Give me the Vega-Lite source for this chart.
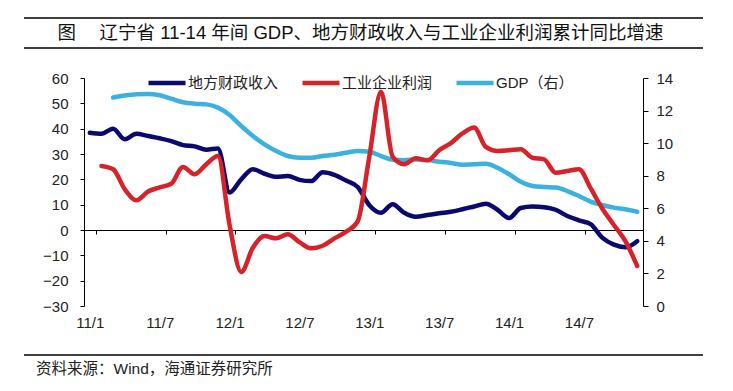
{
  "$schema": "https://vega.github.io/schema/vega-lite/v6.json",
  "background": "white",
  "padding": {"left": 23, "top": 17, "right": 31, "bottom": 10},
  "spacing": 30,
  "bounds": "flush",
  "center": true,
  "resolve": {"scale": {"color": "independent"}, "legend": {"color": "independent"}},
  "config": {
    "view": {"stroke": null},
    "font": "Liberation Sans",
    "axis": {"grid": false, "labelFont": "Liberation Sans", "labelFontSize": 15, "labelColor": "#222", "domainColor": "#000", "tickColor": "#000", "domainWidth": 1, "tickWidth": 1, "title": null}
  },
  "vconcat": [
    {
      "width": 679,
      "height": 30,
      "view": {"stroke": "#000", "strokeWidth": 1.5, "strokeDash": [679, 30, 679, 30]},
      "data": {"values": [{"t": "图　 辽宁省 11-14 年间 GDP、地方财政收入与工业企业利润累计同比增速"}]},
      "mark": {"type": "text", "fontSize": 18.5, "font": "Liberation Sans, Noto Sans CJK SC", "color": "#111", "align": "center", "baseline": "middle", "dx": -3},
      "encoding": {"text": {"field": "t"}}
    },
    {
      "width": 559,
      "height": 228,
      "view": {"stroke": null},
      "data": {"values": [
        {"month": "11/1", "series": "地方财政收入", "value": 38.4},
        {"month": "11/2", "series": "地方财政收入", "value": 38.0},
        {"month": "11/3", "series": "地方财政收入", "value": 40.0},
        {"month": "11/4", "series": "地方财政收入", "value": 35.8},
        {"month": "11/5", "series": "地方财政收入", "value": 38.0},
        {"month": "11/6", "series": "地方财政收入", "value": 37.1},
        {"month": "11/7", "series": "地方财政收入", "value": 36.2},
        {"month": "11/8", "series": "地方财政收入", "value": 35.1},
        {"month": "11/9", "series": "地方财政收入", "value": 33.5},
        {"month": "11/10", "series": "地方财政收入", "value": 33.0},
        {"month": "11/11", "series": "地方财政收入", "value": 31.7},
        {"month": "11/12", "series": "地方财政收入", "value": 32.2},
        {"month": "12/1", "series": "地方财政收入", "value": 14.8},
        {"month": "12/2", "series": "地方财政收入", "value": 20.0},
        {"month": "12/3", "series": "地方财政收入", "value": 24.0},
        {"month": "12/4", "series": "地方财政收入", "value": 22.2},
        {"month": "12/5", "series": "地方财政收入", "value": 21.0},
        {"month": "12/6", "series": "地方财政收入", "value": 21.3},
        {"month": "12/7", "series": "地方财政收入", "value": 19.8},
        {"month": "12/8", "series": "地方财政收入", "value": 19.3},
        {"month": "12/9", "series": "地方财政收入", "value": 22.8},
        {"month": "12/10", "series": "地方财政收入", "value": 21.8},
        {"month": "12/11", "series": "地方财政收入", "value": 19.5},
        {"month": "12/12", "series": "地方财政收入", "value": 17.0},
        {"month": "13/1", "series": "地方财政收入", "value": 9.8},
        {"month": "13/2", "series": "地方财政收入", "value": 6.8},
        {"month": "13/3", "series": "地方财政收入", "value": 10.2},
        {"month": "13/4", "series": "地方财政收入", "value": 6.8},
        {"month": "13/5", "series": "地方财政收入", "value": 5.2},
        {"month": "13/6", "series": "地方财政收入", "value": 5.9},
        {"month": "13/7", "series": "地方财政收入", "value": 6.6},
        {"month": "13/8", "series": "地方财政收入", "value": 7.2},
        {"month": "13/9", "series": "地方财政收入", "value": 8.2},
        {"month": "13/10", "series": "地方财政收入", "value": 9.3},
        {"month": "13/11", "series": "地方财政收入", "value": 10.4},
        {"month": "13/12", "series": "地方财政收入", "value": 8.0},
        {"month": "14/1", "series": "地方财政收入", "value": 4.7},
        {"month": "14/2", "series": "地方财政收入", "value": 8.7},
        {"month": "14/3", "series": "地方财政收入", "value": 9.3},
        {"month": "14/4", "series": "地方财政收入", "value": 9.0},
        {"month": "14/5", "series": "地方财政收入", "value": 8.0},
        {"month": "14/6", "series": "地方财政收入", "value": 5.5},
        {"month": "14/7", "series": "地方财政收入", "value": 3.8},
        {"month": "14/8", "series": "地方财政收入", "value": 2.3},
        {"month": "14/9", "series": "地方财政收入", "value": -3.0},
        {"month": "14/10", "series": "地方财政收入", "value": -5.8},
        {"month": "14/11", "series": "地方财政收入", "value": -6.8},
        {"month": "14/12", "series": "地方财政收入", "value": -4.4},
        {"month": "11/2", "series": "工业企业利润", "value": 25.3},
        {"month": "11/3", "series": "工业企业利润", "value": 24.0},
        {"month": "11/4", "series": "工业企业利润", "value": 16.1},
        {"month": "11/5", "series": "工业企业利润", "value": 11.7},
        {"month": "11/6", "series": "工业企业利润", "value": 15.2},
        {"month": "11/7", "series": "工业企业利润", "value": 16.8},
        {"month": "11/8", "series": "工业企业利润", "value": 18.3},
        {"month": "11/9", "series": "工业企业利润", "value": 24.9},
        {"month": "11/10", "series": "工业企业利润", "value": 22.0},
        {"month": "11/11", "series": "工业企业利润", "value": 25.9},
        {"month": "11/12", "series": "工业企业利润", "value": 29.2},
        {"month": "12/1", "series": "工业企业利润", "value": 2.0},
        {"month": "12/2", "series": "工业企业利润", "value": -16.6},
        {"month": "12/3", "series": "工业企业利润", "value": -7.0},
        {"month": "12/4", "series": "工业企业利润", "value": -2.4},
        {"month": "12/5", "series": "工业企业利润", "value": -3.3},
        {"month": "12/6", "series": "工业企业利润", "value": -1.7},
        {"month": "12/7", "series": "工业企业利润", "value": -4.8},
        {"month": "12/8", "series": "工业企业利润", "value": -7.2},
        {"month": "12/9", "series": "工业企业利润", "value": -6.2},
        {"month": "12/10", "series": "工业企业利润", "value": -3.3},
        {"month": "12/11", "series": "工业企业利润", "value": -0.7},
        {"month": "12/12", "series": "工业企业利润", "value": 3.4},
        {"month": "13/1", "series": "工业企业利润", "value": 29.0},
        {"month": "13/2", "series": "工业企业利润", "value": 54.6},
        {"month": "13/3", "series": "工业企业利润", "value": 29.0},
        {"month": "13/4", "series": "工业企业利润", "value": 26.0},
        {"month": "13/5", "series": "工业企业利润", "value": 28.3},
        {"month": "13/6", "series": "工业企业利润", "value": 27.5},
        {"month": "13/7", "series": "工业企业利润", "value": 31.5},
        {"month": "13/8", "series": "工业企业利润", "value": 34.3},
        {"month": "13/9", "series": "工业企业利润", "value": 38.1},
        {"month": "13/10", "series": "工业企业利润", "value": 40.5},
        {"month": "13/11", "series": "工业企业利润", "value": 32.8},
        {"month": "13/12", "series": "工业企业利润", "value": 31.2},
        {"month": "14/1", "series": "工业企业利润", "value": 31.5},
        {"month": "14/2", "series": "工业企业利润", "value": 31.9},
        {"month": "14/3", "series": "工业企业利润", "value": 28.5},
        {"month": "14/4", "series": "工业企业利润", "value": 27.9},
        {"month": "14/5", "series": "工业企业利润", "value": 22.6},
        {"month": "14/6", "series": "工业企业利润", "value": 23.3},
        {"month": "14/7", "series": "工业企业利润", "value": 24.0},
        {"month": "14/8", "series": "工业企业利润", "value": 16.5},
        {"month": "14/9", "series": "工业企业利润", "value": 8.5},
        {"month": "14/10", "series": "工业企业利润", "value": 2.0},
        {"month": "14/11", "series": "工业企业利润", "value": -4.5},
        {"month": "14/12", "series": "工业企业利润", "value": -14.2},
        {"month": "11/3", "series": "GDP（右）", "value": 12.8},
        {"month": "11/4", "series": "GDP（右）", "value": 12.92},
        {"month": "11/5", "series": "GDP（右）", "value": 13.0},
        {"month": "11/6", "series": "GDP（右）", "value": 13.02},
        {"month": "11/7", "series": "GDP（右）", "value": 12.94},
        {"month": "11/8", "series": "GDP（右）", "value": 12.73},
        {"month": "11/9", "series": "GDP（右）", "value": 12.51},
        {"month": "11/10", "series": "GDP（右）", "value": 12.42},
        {"month": "11/11", "series": "GDP（右）", "value": 12.38},
        {"month": "11/12", "series": "GDP（右）", "value": 12.18},
        {"month": "12/1", "series": "GDP（右）", "value": 11.73},
        {"month": "12/2", "series": "GDP（右）", "value": 11.05},
        {"month": "12/3", "series": "GDP（右）", "value": 10.44},
        {"month": "12/4", "series": "GDP（右）", "value": 9.93},
        {"month": "12/5", "series": "GDP（右）", "value": 9.52},
        {"month": "12/6", "series": "GDP（右）", "value": 9.21},
        {"month": "12/7", "series": "GDP（右）", "value": 9.11},
        {"month": "12/8", "series": "GDP（右）", "value": 9.11},
        {"month": "12/9", "series": "GDP（右）", "value": 9.21},
        {"month": "12/10", "series": "GDP（右）", "value": 9.29},
        {"month": "12/11", "series": "GDP（右）", "value": 9.41},
        {"month": "12/12", "series": "GDP（右）", "value": 9.52},
        {"month": "13/1", "series": "GDP（右）", "value": 9.47},
        {"month": "13/2", "series": "GDP（右）", "value": 9.21},
        {"month": "13/3", "series": "GDP（右）", "value": 8.98},
        {"month": "13/4", "series": "GDP（右）", "value": 8.95},
        {"month": "13/5", "series": "GDP（右）", "value": 9.0},
        {"month": "13/6", "series": "GDP（右）", "value": 8.96},
        {"month": "13/7", "series": "GDP（右）", "value": 8.86},
        {"month": "13/8", "series": "GDP（右）", "value": 8.78},
        {"month": "13/9", "series": "GDP（右）", "value": 8.68},
        {"month": "13/10", "series": "GDP（右）", "value": 8.7},
        {"month": "13/11", "series": "GDP（右）", "value": 8.74},
        {"month": "13/12", "series": "GDP（右）", "value": 8.49},
        {"month": "14/1", "series": "GDP（右）", "value": 8.09},
        {"month": "14/2", "series": "GDP（右）", "value": 7.63},
        {"month": "14/3", "series": "GDP（右）", "value": 7.37},
        {"month": "14/4", "series": "GDP（右）", "value": 7.31},
        {"month": "14/5", "series": "GDP（右）", "value": 7.27},
        {"month": "14/6", "series": "GDP（右）", "value": 7.06},
        {"month": "14/7", "series": "GDP（右）", "value": 6.75},
        {"month": "14/8", "series": "GDP（右）", "value": 6.41},
        {"month": "14/9", "series": "GDP（右）", "value": 6.2},
        {"month": "14/10", "series": "GDP（右）", "value": 6.04},
        {"month": "14/11", "series": "GDP（右）", "value": 5.94},
        {"month": "14/12", "series": "GDP（右）", "value": 5.79}
      ]},
      "layer": [
        {
          "transform": [{"filter": "datum.series === 'GDP（右）'"}],
          "mark": {"type": "line", "strokeWidth": 4.5, "interpolate": "monotone", "strokeCap": "round", "strokeJoin": "round"},
          "encoding": {
            "x": {
              "field": "month", "type": "ordinal", "bandPosition": 0.5,
              "scale": {"type": "band", "paddingInner": 0, "paddingOuter": 0, "domain": ["11/1","11/2","11/3","11/4","11/5","11/6","11/7","11/8","11/9","11/10","11/11","11/12","12/1","12/2","12/3","12/4","12/5","12/6","12/7","12/8","12/9","12/10","12/11","12/12","13/1","13/2","13/3","13/4","13/5","13/6","13/7","13/8","13/9","13/10","13/11","13/12","14/1","14/2","14/3","14/4","14/5","14/6","14/7","14/8","14/9","14/10","14/11","14/12"]},
              "axis": {"orient": "bottom", "offset": -76, "values": ["11/1","11/7","12/1","12/7","13/1","13/7","14/1","14/7"], "tickBand": "extent", "tickSize": 4, "labelPadding": 81, "labelAngle": 0, "title": null}
            },
            "y": {"field": "value", "type": "quantitative", "scale": {"domain": [0, 14], "nice": false, "zero": false}, "axis": {"orient": "right", "values": [0,2,4,6,8,10,12,14], "tickSize": 5, "labelPadding": 8, "title": null}},
            "color": {
              "field": "series", "type": "nominal",
              "scale": {"domain": ["地方财政收入", "工业企业利润", "GDP（右）"], "range": ["#0A0A6E", "#D7222A", "#3CB1DE"]},
              "legend": {"title": null, "orient": "none", "legendX": 62, "legendY": -16, "direction": "horizontal", "symbolType": "stroke", "symbolSize": 1369, "symbolStrokeWidth": 4.5, "labelFontSize": 15, "labelFont": "Liberation Sans, Noto Sans CJK SC", "labelColor": "#222", "labelOffset": 0, "columnPadding": 14, "padding": 0}
            }
          }
        },
        {
          "transform": [{"filter": "datum.series !== 'GDP（右）'"}],
          "mark": {"type": "line", "strokeWidth": 4.5, "interpolate": "monotone", "strokeCap": "round", "strokeJoin": "round"},
          "encoding": {
            "x": {"field": "month", "type": "ordinal", "bandPosition": 0.5},
            "y": {"field": "value", "type": "quantitative", "scale": {"domain": [-30, 60], "nice": false, "zero": false}, "axis": {"orient": "left", "values": [-30,-20,-10,0,10,20,30,40,50,60], "tickSize": 4, "labelPadding": 12, "title": null}},
            "color": {"field": "series", "type": "nominal"}
          }
        }
      ],
      "resolve": {"scale": {"y": "independent"}}
    },
    {
      "width": 679,
      "height": 19,
      "view": {"stroke": "#000", "strokeWidth": 1.5, "strokeDash": [0, 698, 679, 19]},
      "data": {"values": []},
      "mark": "text",
      "title": {"text": "资料来源：Wind，海通证券研究所", "orient": "bottom", "anchor": "start", "frame": "group", "offset": 7, "dx": 12, "fontSize": 15.5, "font": "Liberation Sans, Noto Sans CJK SC", "fontWeight": "normal", "color": "#222"}
    }
  ]
}
